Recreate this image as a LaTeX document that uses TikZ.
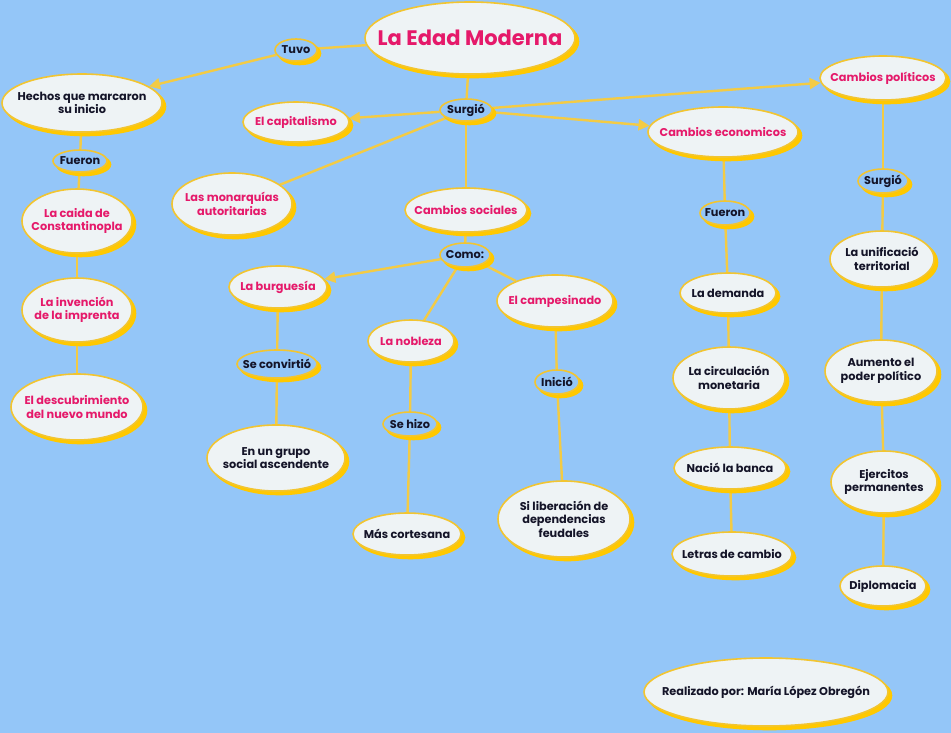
\documentclass[tikz,border=0pt]{standalone}
\usepackage{fontspec}
\setmainfont{Poppins}
\usetikzlibrary{shapes.geometric,shadows,arrows.meta,backgrounds}
\definecolor{bgblue}{HTML}{94C6F8}
\definecolor{ybord}{HTML}{F2C531}
\definecolor{yshad}{HTML}{FFC800}
\definecolor{yline}{HTML}{F3CB45}
\definecolor{cfill}{HTML}{EEF3F5}
\definecolor{pinkt}{HTML}{E5196A}
\definecolor{darkt}{HTML}{141428}
\tikzset{
  shp/.style={ellipse, draw=ybord, line width=1.6pt, inner sep=0pt,
    copy shadow={shadow xshift=3.5pt, shadow yshift=-3.5pt, fill=yshad, draw=yshad}},
  cpt/.style n args={3}{shp, fill=cfill, minimum width=#1pt, minimum height=#2pt},
  lnk/.style n args={2}{shp, fill=bgblue, minimum width=#1pt, minimum height=#2pt},
  txt/.style={font=\fontsize{11.3}{13.5}\selectfont\bfseries, align=center},
  pk/.style={txt, text=pinkt},
  dk/.style={txt, text=darkt},
  conn/.style={draw=yline, line width=2.4pt},
  arr/.style={conn, -{Triangle[length=11pt,width=11pt]}},
}
\begin{document}
\begin{tikzpicture}[x=1pt,y=-1pt]
\useasboundingbox (0,0) rectangle (951,733);
% nodes
\node[cpt={210}{72}{pinkt}] (title) at (470,38) {};
\node[txt, text=pinkt, font=\fontsize{21}{24}\selectfont\bfseries] at (title) {La Edad Moderna};
\node[lnk={42}{22}] (tuvo) at (296,50) {};
\node[dk] at (tuvo) {Tuvo};
\node[lnk={52}{22}] (surg) at (466,110) {};
\node[dk] at (surg) {Surgió};
\node[cpt={160}{58}{darkt}] (hechos) at (82,103) {};
\node[dk] at (hechos) {Hechos que marcaron\\su inicio};
\node[lnk={54}{22}] (fue1) at (80,161) {};
\node[dk] at (fue1) {Fueron};
\node[cpt={110}{64}{pinkt}] (const) at (77,221) {};
\node[pk] at (const) {La caida de\\Constantinopla};
\node[cpt={110}{64}{pinkt}] (impr) at (77,310) {};
\node[pk] at (impr) {La invención\\de la imprenta};
\node[cpt={132}{66}{pinkt}] (desc) at (77,407) {};
\node[pk] at (desc) {El descubrimiento\\del nuevo mundo};
\node[cpt={106}{40}{pinkt}] (capit) at (296,122) {};
\node[pk] at (capit) {El capitalismo};
\node[cpt={120}{62}{pinkt}] (monar) at (232,204) {};
\node[pk] at (monar) {Las monarquías\\autoritarias};
\node[cpt={122}{44}{pinkt}] (csoc) at (466,210) {};
\node[pk] at (csoc) {Cambios sociales};
\node[lnk={50}{24}] (como) at (465,255) {};
\node[dk] at (como) {Como:};
\node[cpt={98}{42}{pinkt}] (burg) at (278,287) {};
\node[pk] at (burg) {La burguesía};
\node[cpt={116}{52}{pinkt}] (camp) at (555,301) {};
\node[pk] at (camp) {El campesinado};
\node[cpt={86}{42}{pinkt}] (nob) at (411,341) {};
\node[pk] at (nob) {La nobleza};
\node[lnk={80}{28}] (seconv) at (277,364) {};
\node[dk] at (seconv) {Se convirtió};
\node[cpt={138}{66}{darkt}] (grupo) at (276,458) {};
\node[dk] at (grupo) {En un grupo\\social ascendente};
\node[lnk={54}{24}] (sehizo) at (410,424) {};
\node[dk] at (sehizo) {Se hizo};
\node[cpt={108}{42}{darkt}] (mas) at (407,534) {};
\node[dk] at (mas) {Más cortesana};
\node[lnk={44}{24}] (inic) at (557,382) {};
\node[dk] at (inic) {Inició};
\node[cpt={132}{76}{darkt}] (liber) at (564,519) {};
\node[dk] at (liber) {Si liberación de\\dependencias\\feudales};
\node[cpt={150}{50}{pinkt}] (ceco) at (723,132) {};
\node[pk] at (ceco) {Cambios economicos};
\node[cpt={126}{44}{pinkt}] (cpol) at (883,78) {};
\node[pk] at (cpol) {Cambios políticos};
\node[lnk={50}{24}] (surg2) at (883,181) {};
\node[dk] at (surg2) {Surgió};
\node[lnk={50}{24}] (fue2) at (725,213) {};
\node[dk] at (fue2) {Fueron};
\node[cpt={96}{40}{darkt}] (dem) at (728,293) {};
\node[dk] at (dem) {La demanda};
\node[cpt={112}{62}{darkt}] (circ) at (729,378) {};
\node[dk] at (circ) {La circulación\\monetaria};
\node[cpt={112}{42}{darkt}] (banca) at (730,468) {};
\node[dk] at (banca) {Nació la banca};
\node[cpt={120}{44}{darkt}] (letras) at (732,554) {};
\node[dk] at (letras) {Letras de cambio};
\node[cpt={104}{56}{darkt}] (unif) at (882,259) {};
\node[dk] at (unif) {La unificació\\territorial};
\node[cpt={112}{62}{darkt}] (aum) at (881,371) {};
\node[dk] at (aum) {Aumento el\\poder político};
\node[cpt={106}{62}{darkt}] (ejer) at (884,482) {};
\node[dk] at (ejer) {Ejercitos\\permanentes};
\node[cpt={86}{40}{darkt}] (dipl) at (883,586) {};
\node[dk] at (dipl) {Diplomacia};
\node[cpt={244}{68}{darkt}] (real) at (766,692) {};
\node[dk] at (real) {Realizado por: María López Obregón};
% connectors
\begin{scope}[on background layer]
\fill[bgblue] (0,0) rectangle (951,733);
\draw[conn] (title) -- (tuvo);
\draw[arr] (tuvo) -- (hechos);
\draw[conn] (title) -- (surg);
\draw[arr] (surg) -- (capit);
\draw[conn] (surg) -- (monar);
\draw[conn] (surg) -- (csoc);
\draw[arr] (surg) -- (ceco);
\draw[arr] (surg) -- (cpol);
\draw[conn] (hechos) -- (fue1);
\draw[conn] (fue1) -- (const);
\draw[conn] (const) -- (impr);
\draw[conn] (impr) -- (desc);
\draw[conn] (csoc) -- (como);
\draw[arr] (como) -- (burg);
\draw[conn] (como) -- (nob);
\draw[conn] (como) -- (camp);
\draw[conn] (burg) -- (seconv);
\draw[conn] (seconv) -- (grupo);
\draw[conn] (nob) -- (sehizo);
\draw[conn] (sehizo) -- (mas);
\draw[conn] (camp) -- (inic);
\draw[conn] (inic) -- (liber);
\draw[conn] (ceco) -- (fue2);
\draw[conn] (fue2) -- (dem);
\draw[conn] (dem) -- (circ);
\draw[conn] (circ) -- (banca);
\draw[conn] (banca) -- (letras);
\draw[conn] (cpol) -- (surg2);
\draw[conn] (surg2) -- (unif);
\draw[conn] (unif) -- (aum);
\draw[conn] (aum) -- (ejer);
\draw[conn] (ejer) -- (dipl);
\end{scope}
\end{tikzpicture}
\end{document}
